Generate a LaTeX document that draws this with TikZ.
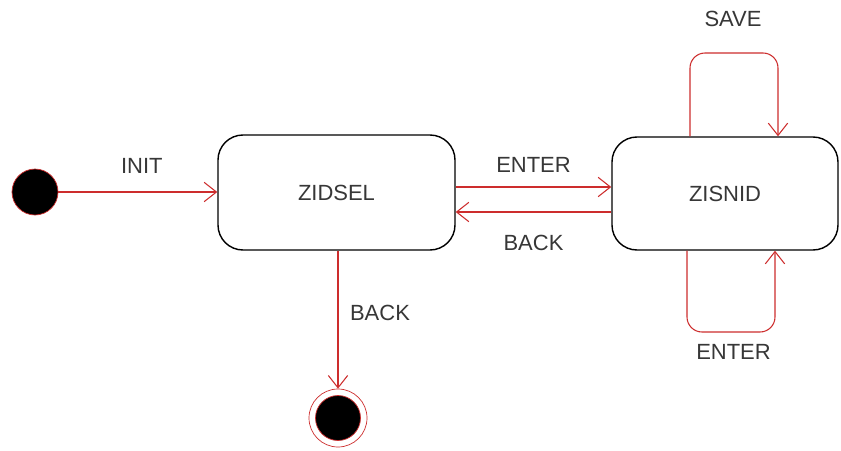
\documentclass[tikz,border=0pt]{standalone}
\usepackage{fontspec}
\setmainfont{Liberation Sans}
\usepackage{tikz}
\usetikzlibrary{arrows.meta}

\definecolor{edgered}{RGB}{205,45,45}
\definecolor{labelgray}{RGB}{55,55,55}

\tikzset{
	state/.style={draw=black, thick, rounded corners=0.5cm, text=labelgray},
	trans/.style={draw=edgered, semithick, -{Straight Barb[length=7pt, width=11pt]}},
	lbl/.style={text=labelgray}
}

\begin{document}
\begin{tikzpicture}[font=\fontsize{12.5}{15}\selectfont]
	\useasboundingbox[fill=white] (0,0) rectangle (16.82,-9);
	% states
	\node[circle, fill=black, draw=edgered, minimum size=0.92cm, inner sep=0] (init) at (0.70,-3.84) {};
	\node[state, minimum width=4.74cm, minimum height=2.3cm] (zidsel) at (6.73,-3.85) {ZIDSEL};
	\node[state, minimum width=4.52cm, minimum height=2.26cm] (zisnid) at (14.50,-3.87) {ZISNID};
	\node[circle, draw=edgered, minimum size=1.16cm, inner sep=0] (final) at (6.76,-8.36) {};
	\node[circle, fill=black, draw=edgered, minimum size=0.9cm, inner sep=0] (finalin) at (final.center) {};
	% transitions
	\draw[trans] (init) -- (zidsel.west |- init) node[pos=0.5, xshift=0.08cm, yshift=0.52cm, lbl]{INIT};
	\draw[trans] ([yshift=0.11cm]zidsel.east) -- ([yshift=0.11cm]zidsel.east -| zisnid.west) node[pos=0.5, yshift=0.44cm, lbl]{ENTER};
	\draw[trans] ([yshift=-0.39cm]zidsel.east -| zisnid.west) -- ([yshift=-0.39cm]zidsel.east) node[pos=0.5, yshift=-0.62cm, lbl]{BACK};
	\draw[trans] (final.north |- zidsel.south) -- (final.north) node[pos=0.45, xshift=0.84cm, lbl]{BACK};
	% self loops
	\coordinate (savel) at (13.80,-1.06);
	\coordinate (saver) at (15.56,-1.06);
	\draw[trans, rounded corners=0.3cm] (savel |- zisnid.north) -- (savel) -- (saver) -- (saver |- zisnid.north);
	\node[lbl] (savelbl) at (14.66,-0.38) {SAVE};
	\coordinate (enterl) at (13.74,-6.64);
	\coordinate (enterr) at (15.50,-6.64);
	\draw[trans, rounded corners=0.3cm] (enterl |- zisnid.south) -- (enterl) -- (enterr) -- (enterr |- zisnid.south);
	\node[lbl] (enterlbl) at (14.67,-7.04) {ENTER};
\end{tikzpicture}
\end{document}
